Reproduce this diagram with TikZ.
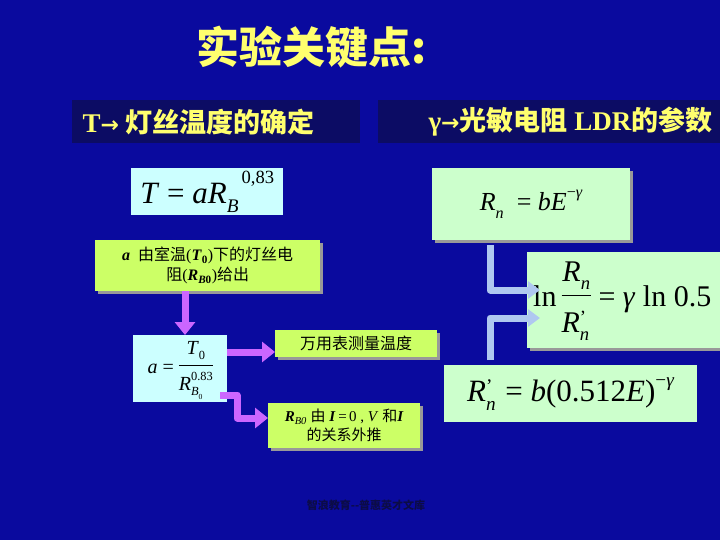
\documentclass[tikz,border=0pt]{standalone}
\usepackage{fontspec}
\setmainfont{Liberation Serif}
\newfontfamily\cjk{Noto Sans CJK SC}
\newfontfamily\dv{DejaVu Sans}
\usetikzlibrary{arrows.meta,shadows}
\setlength{\arrayrulewidth}{1.1pt}
\newcommand\fr[2]{\begin{tabular}[c]{@{}c@{}}#1\\[4pt]\hline\rule{0pt}{1.2em}#2\end{tabular}}
\newcommand\sbs[1]{\raisebox{-0.28em}{\scalebox{0.62}{#1}}}
\newcommand\sps[1]{\raisebox{0.5em}{\scalebox{0.62}{#1}}}
\newcommand\prm{\raisebox{0.3em}{\scalebox{0.62}{'}}}
\definecolor{bg}{RGB}{10,10,158}
\definecolor{hdr}{RGB}{12,12,100}
\definecolor{ylw}{RGB}{255,255,110}
\definecolor{cyanbox}{RGB}{204,255,255}
\definecolor{greenbox}{RGB}{204,255,204}
\definecolor{limebox}{RGB}{204,255,102}
\definecolor{myviolet}{RGB}{204,102,255}
\definecolor{lblue}{RGB}{175,200,240}
\definecolor{foot}{RGB}{12,12,70}
\tikzset{
  box/.style={anchor=north west, inner sep=0pt, align=center},
  shad/.style={drop shadow={shadow xshift=3pt, shadow yshift=-3pt, fill=gray!80, opacity=1}},
  varrow/.style={draw=myviolet, line width=7pt, line join=round,
    -{Triangle[length=13pt,width=20pt]}},
  barrow/.style={draw=lblue, line width=7pt, line join=round,
    -{Triangle[length=12pt,width=17pt]}},
}
\begin{document}
\begin{tikzpicture}[x=1pt,y=-1pt]
\clip (0,0) rectangle (720,540);
\fill[bg] (0,0) rectangle (720,540);
% title
\node[ylw, font=\fontsize{43}{46}\selectfont\cjk\bfseries] (title) at (312,47) {实验关键点:};
% headers
\fill[hdr] (72,100) rectangle (360,143);
\node[ylw, anchor=west, font=\fontsize{27}{30}\selectfont\bfseries] (hl) at (79,122) {T{\dv\fontsize{22}{24}\selectfont→} {\cjk 灯丝温度的确定}};
\fill[hdr] (378,100) rectangle (730,143);
\node[ylw, anchor=west, font=\fontsize{27}{30}\selectfont\bfseries] (hr) at (425,122) {γ{\dv\fontsize{22}{24}\selectfont→}{\cjk 光敏电阻} LDR{\cjk 的参数}};
% left column
\node[box, fill=cyanbox, minimum width=152pt, minimum height=47pt, font=\fontsize{31}{34}\selectfont] (tbox) at (131,168)
  {\textit{T} = \textit{aR}\sbs{\textit{B}}\raisebox{0.65em}{\scalebox{0.6}{\,0,83}}};
\node[box, fill=limebox, shad, minimum width=225pt, minimum height=51pt, font=\fontsize{16}{20}\selectfont] (lime) at (95,240)
  {{\bfseries\itshape a}\ \ {\cjk 由室温}(\textbf{\textit{T}}\textsubscript{\bfseries 0}){\cjk 下的灯丝电}\\{\cjk 阻}(\textbf{\textit{R}}\textsubscript{\bfseries\itshape B\upshape 0}){\cjk 给出}};
\node[box, fill=cyanbox, minimum width=94pt, minimum height=67pt, font=\fontsize{20}{23}\selectfont] (abox) at (133,335)
  {\textit{a} = \fr{\textit{T}\sbs{0}}{\textit{R}\rlap{\sbs{\textit{B}\sbs{0}}}\sps{0.83}}};
\node[box, fill=limebox, shad, minimum width=162pt, minimum height=27pt, font=\fontsize{16}{20}\selectfont\cjk] (mbox) at (275,330) {万用表测量温度};
\node[box, fill=limebox, shad, minimum width=152pt, minimum height=45pt, font=\fontsize{15}{19}\selectfont] (rbox) at (268,403)
  {\textbf{\textit{R}}\textsubscript{\itshape B0} {\cjk 由} \textbf{\textit{I}}\,=\,0 , \textit{V} {\cjk 和}\textbf{\textit{I}}\\{\cjk 的关系外推}};
\draw[varrow] (lime.south -| 185,0) -- (abox.north -| 185,0);
\draw[varrow] (abox.east |- 0,352) -- (mbox.west |- 0,352);
\draw[varrow, line cap=rect] (223,395) -| (237,418) -- (rbox.west |- 0,418);
% right column
\node[box, fill=greenbox, shad, minimum width=198pt, minimum height=72pt, font=\fontsize{26}{29}\selectfont] (rnbox) at (432,168)
  {\textit{R}\sbs{\textit{n}}\ \ = \textit{bE}\sps{−\textit{γ}}};
\node[box, fill=greenbox, shad, minimum width=200pt, minimum height=96pt] (lnbox) at (527,252) {};
\node[anchor=west, inner sep=0pt, font=\fontsize{30}{33}\selectfont] (lntext) at (533,300)
  {ln\,\fr{\textit{R}\sbs{\textit{n}}}{\textit{R}\rlap{\sbs{\textit{n}}}\prm\,} = \textit{γ} ln 0.5};
\node[box, fill=greenbox, minimum width=253pt, minimum height=57pt, font=\fontsize{31}{34}\selectfont] (rpbox) at (444,365)
  {\textit{R}\rlap{\sbs{\textit{n}}}\prm\, = \textit{b}(0.512\textit{E})\sps{−\textit{γ}}};
\draw[barrow] (rnbox.south -| 490,0) ++(0,5) |- (540,290);
\draw[barrow] (rpbox.north -| 490,0) ++(0,-5) |- (540,318);
% footer
\node[foot, font=\fontsize{11}{13}\selectfont\cjk\bfseries] (footer) at (366,505) {智浪教育--普惠英才文库};
\end{tikzpicture}
\end{document}
